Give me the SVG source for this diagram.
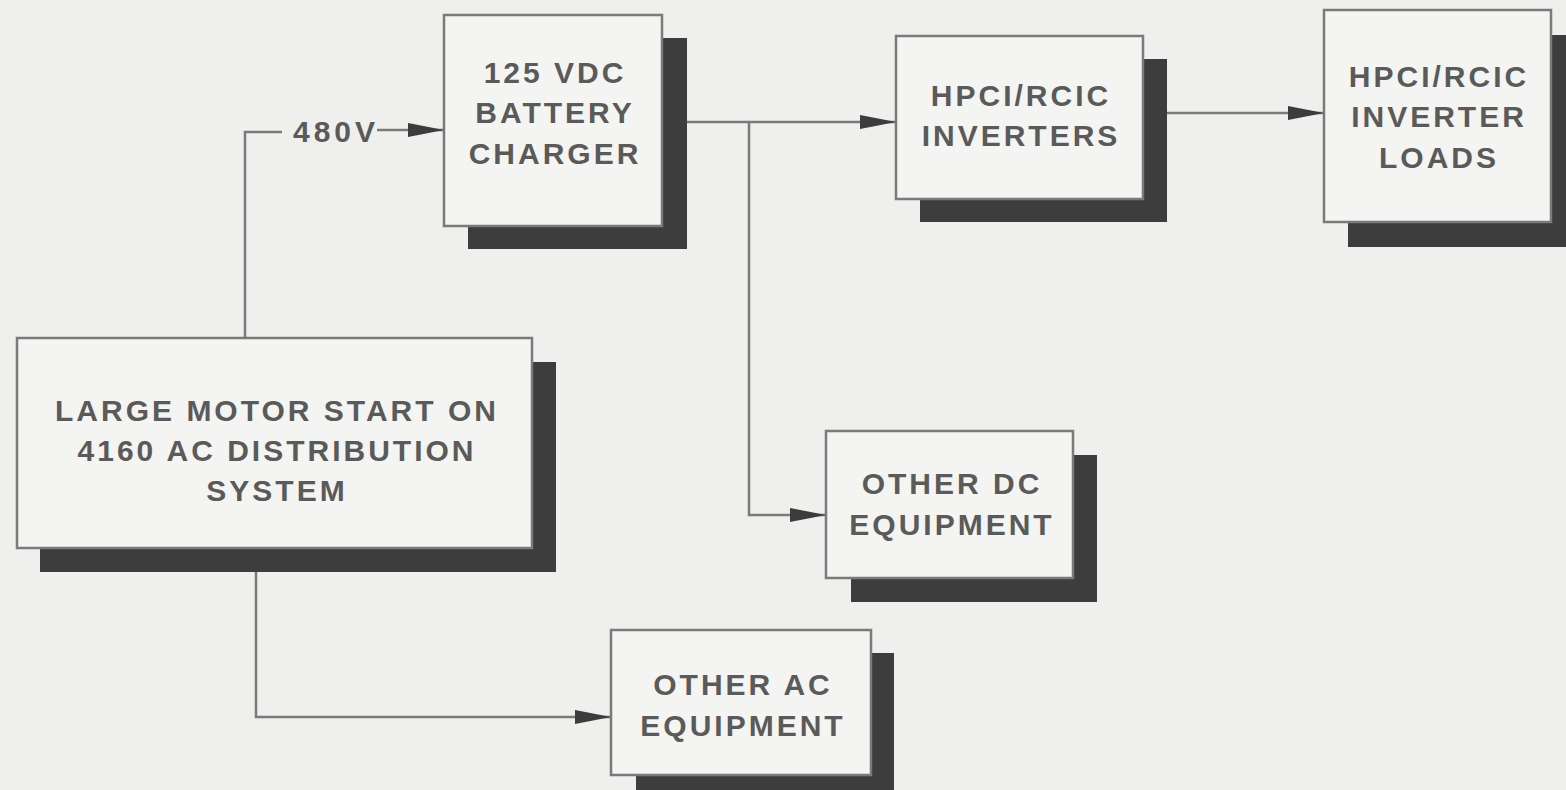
<svg xmlns="http://www.w3.org/2000/svg" width="1566" height="790" viewBox="0 0 1566 790">
<defs>
<marker id="arr" markerUnits="userSpaceOnUse" markerWidth="40" markerHeight="18" refX="36" refY="8" orient="auto">
<path d="M0,1 L36,8 L0,15 Z" fill="#3c3c3c"/>
</marker>
<style>
.bg{fill:#efefed}
.shadow{fill:#3d3d3d}
.box{fill:#f4f4f2;stroke:#7a7a7a;stroke-width:2.5}
.t{font-family:"Liberation Sans",Arial,sans-serif;font-weight:bold;font-size:30px;fill:#5a5a5a;text-anchor:middle;letter-spacing:3px}
.wire{fill:none;stroke:#7a7a7a;stroke-width:2.5}
</style>
</defs>
<rect class="bg" x="0" y="0" width="1566" height="790"/>

<g id="connectors">
<polyline class="wire" points="245,338 245,132 282,132"/>
<line class="wire" x1="377" y1="130" x2="444" y2="130" marker-end="url(#arr)"/>
<line class="wire" x1="662" y1="122" x2="896" y2="122" marker-end="url(#arr)"/>
<polyline class="wire" points="749,122 749,515 826,515" marker-end="url(#arr)"/>
<line class="wire" x1="1143" y1="113" x2="1324" y2="113" marker-end="url(#arr)"/>
<polyline class="wire" points="256,548 256,717 611,717" marker-end="url(#arr)"/>
<text class="t" x="336" y="142" style="letter-spacing:4px">480V</text>
</g>

<g id="charger">
<rect class="shadow" x="468" y="38" width="219" height="211"/>
<rect class="box" x="444" y="15" width="218" height="211"/>
<text class="t" x="555" y="83">125 VDC</text>
<text class="t" x="555" y="123">BATTERY</text>
<text class="t" x="555" y="164">CHARGER</text>
</g>

<g id="inverters">
<rect class="shadow" x="920" y="59" width="247" height="163"/>
<rect class="box" x="896" y="36" width="247" height="163"/>
<text class="t" x="1021" y="106">HPCI/RCIC</text>
<text class="t" x="1021" y="146">INVERTERS</text>
</g>

<g id="loads">
<rect class="shadow" x="1348" y="35" width="218" height="212"/>
<rect class="box" x="1324" y="10" width="227" height="212"/>
<text class="t" x="1439" y="87">HPCI/RCIC</text>
<text class="t" x="1439" y="127">INVERTER</text>
<text class="t" x="1439" y="168">LOADS</text>
</g>

<g id="motor">
<rect class="shadow" x="40" y="362" width="516" height="210"/>
<rect class="box" x="17" y="338" width="515" height="210"/>
<text class="t" x="277" y="421">LARGE MOTOR START ON</text>
<text class="t" x="277" y="461">4160 AC DISTRIBUTION</text>
<text class="t" x="277" y="501">SYSTEM</text>
</g>

<g id="other-dc">
<rect class="shadow" x="851" y="455" width="246" height="147"/>
<rect class="box" x="826" y="431" width="247" height="147"/>
<text class="t" x="952" y="494">OTHER DC</text>
<text class="t" x="952" y="535">EQUIPMENT</text>
</g>

<g id="other-ac">
<rect class="shadow" x="636" y="653" width="258" height="140"/>
<rect class="box" x="611" y="630" width="260" height="145"/>
<text class="t" x="743" y="695">OTHER AC</text>
<text class="t" x="743" y="736">EQUIPMENT</text>
</g>
</svg>
